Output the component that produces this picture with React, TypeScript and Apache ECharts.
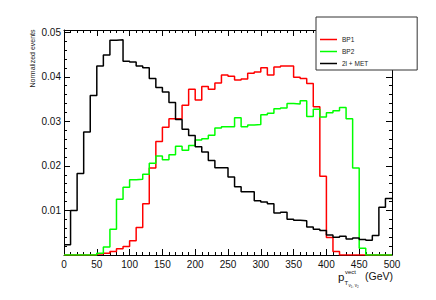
import React, { useEffect, useRef } from "react";
import * as echarts from "echarts";

// Histogram bins: 0–500 GeV, 10 GeV wide
const BIN_WIDTH = 10;
const X_MIN = 0;
const X_MAX = 500;
const X_INTERVAL = 50;
const Y_MIN = 0;
const Y_MAX = 0.0505;
const Y_INTERVAL = 0.01;

const SERIES_NAMES = ["BP1", "BP2", "2l + MET"];

// BP1 (red)
const bp1 = [
  0, 0, 0, 0, 0, 0.0002, 0.0004, 0.0008, 0.0014, 0.0019,
  0.0032, 0.0062, 0.0115, 0.0195, 0.0255, 0.0287, 0.0306, 0.0306, 0.0336, 0.0372,
  0.0348, 0.0378, 0.0372, 0.0386, 0.0404, 0.0401, 0.0393, 0.0395, 0.0408, 0.0411,
  0.042, 0.0404, 0.0422, 0.0424, 0.0424, 0.0399, 0.0396, 0.0385, 0.0333, 0.0177,
  0.0039, 0.0008, 0, 0, 0, 0, 0, 0, 0, 0,
];

// BP2 (green)
const bp2 = [
  0, 0, 0, 0, 0, 0.0004, 0.0018, 0.0058, 0.0125, 0.0152,
  0.0169, 0.017, 0.0181, 0.0206, 0.0222, 0.0214, 0.0225, 0.0244, 0.0235, 0.0246,
  0.0258, 0.0261, 0.0269, 0.0285, 0.0288, 0.0288, 0.0308, 0.0288, 0.0292, 0.0293,
  0.0315, 0.0318, 0.0328, 0.033, 0.034, 0.0339, 0.0346, 0.0311, 0.0327, 0.031,
  0.0319, 0.0324, 0.0331, 0.0306, 0.0195, 0.0015, 0, 0, 0, 0,
];

// 2l + MET (black)
const bkg = [
  0.0023, 0.01, 0.0183, 0.0276, 0.0358, 0.0424, 0.0449, 0.0482, 0.0483, 0.0435,
  0.0433, 0.0424, 0.042, 0.0396, 0.0376, 0.0366, 0.0342, 0.0304, 0.0282, 0.0268,
  0.0243, 0.0231, 0.0212, 0.0196, 0.0196, 0.0175, 0.0153, 0.0142, 0.0142, 0.0122,
  0.0119, 0.0115, 0.0094, 0.0096, 0.008, 0.0078, 0.0077, 0.0063, 0.0058, 0.0055,
  0.0045, 0.004, 0.0042, 0.0036, 0.0038, 0.0035, 0.0033, 0.0044, 0.0107, 0.0127,
];

const COLORS = ["#ff0000", "#00ff00", "#000000"];
const FONT = "'Liberation Sans', Arial, Helvetica, sans-serif";
const LINE_ICON = "path://M0,0H34V3H0Z";

function toSteps(vals: number[]) {
  const pts: number[][] = vals.map((v, i) => [X_MIN + i * BIN_WIDTH, v]);
  pts.push([X_MIN + vals.length * BIN_WIDTH, vals[vals.length - 1]]);
  return pts;
}

function xAxisDef(position: "top" | "bottom") {
  return {
    type: "value",
    position,
    min: X_MIN,
    max: X_MAX,
    interval: X_INTERVAL,
    axisLine: { show: true, onZero: false, lineStyle: { color: "#000", width: 1 } },
    axisTick: { show: true, inside: true, length: 6, lineStyle: { color: "#000", width: 1 } },
    minorTick: { show: true, splitNumber: 5, length: 3, lineStyle: { color: "#000", width: 1 } },
    splitLine: { show: false },
    axisLabel: {
      show: position === "bottom",
      fontSize: 10,
      color: "#111",
      margin: 4,
      fontFamily: FONT,
    },
  };
}

function yAxisDef(position: "left" | "right") {
  return {
    type: "value",
    position,
    min: Y_MIN,
    max: Y_MAX,
    interval: Y_INTERVAL,
    axisLine: { show: true, onZero: false, lineStyle: { color: "#000", width: 1 } },
    axisTick: { show: true, inside: true, length: 6, lineStyle: { color: "#000", width: 1 } },
    minorTick: { show: true, splitNumber: 5, length: 3, lineStyle: { color: "#000", width: 1 } },
    splitLine: { show: false },
    axisLabel: {
      show: position === "left",
      fontSize: 10,
      color: "#111",
      margin: 3,
      fontFamily: FONT,
      formatter: (v: number) => (v <= 0 || v > 0.0501 ? "" : v.toFixed(2)),
    },
  };
}

export default function App() {
  const ref = useRef<HTMLDivElement>(null);
  useEffect(() => {
    if (!ref.current) return;
    const chart = echarts.init(ref.current, null, { renderer: "svg" });
    const allData = [bp1, bp2, bkg];
    chart.setOption({
      animation: false,
      backgroundColor: "#ffffff",
      grid: { left: 64, right: 44, top: 30, bottom: 45, containLabel: false },
      xAxis: [xAxisDef("bottom"), xAxisDef("top")],
      yAxis: [yAxisDef("left"), yAxisDef("right")],
      legend: {
        data: SERIES_NAMES.map((n) => ({ name: n, icon: LINE_ICON })),
        orient: "vertical",
        left: 316,
        top: 17,
        padding: [19, 49, 3, 4],
        itemWidth: 17,
        itemHeight: 10,
        itemGap: 5,
        backgroundColor: "#ffffff",
        borderColor: "#333",
        borderWidth: 1,
        selectedMode: false,
        textStyle: { fontSize: 6.5, color: "#222", fontFamily: FONT },
      },
      series: allData.map((d, i) => ({
        name: SERIES_NAMES[i],
        type: "line",
        step: "end",
        symbol: "none",
        showSymbol: false,
        xAxisIndex: 0,
        yAxisIndex: 0,
        clip: true,
        data: toSteps(d),
        lineStyle: { color: COLORS[i], width: 1.5 },
        itemStyle: { color: COLORS[i] },
      })),
      graphic: [
        {
          type: "text",
          x: 32,
          y: 29.5,
          rotation: Math.PI / 2,
          style: {
            text: "Normalized events",
            fontSize: 7,
            fontFamily: FONT,
            fill: "#222",
            align: "right",
            verticalAlign: "middle",
          },
        },
        {
          type: "text",
          x: 338,
          y: 277,
          style: { text: "p", fontSize: 11.5, fontFamily: FONT, fill: "#111", align: "left", verticalAlign: "middle" },
        },
        {
          type: "text",
          x: 345,
          y: 271.5,
          style: { text: "vect", fontSize: 6, fontFamily: FONT, fill: "#111", align: "left", verticalAlign: "middle" },
        },
        {
          type: "text",
          x: 344.5,
          y: 283,
          style: { text: "T", fontSize: 6, fontFamily: FONT, fill: "#111", align: "left", verticalAlign: "middle" },
        },
        {
          type: "text",
          x: 348.5,
          y: 285,
          style: { text: "ν₁, ν₂", fontSize: 4.5, fontFamily: FONT, fill: "#111", align: "left", verticalAlign: "middle" },
        },
        {
          type: "text",
          x: 393,
          y: 276,
          style: { text: "(GeV)", fontSize: 10.5, fontFamily: FONT, fill: "#111", align: "right", verticalAlign: "middle" },
        },
      ],
    });
    return () => chart.dispose();
  }, []);
  return (
    <div
      ref={ref}
      style={{ position: "absolute", left: 0, top: 0, width: 436, height: 300, background: "#fff" }}
    />
  );
}
